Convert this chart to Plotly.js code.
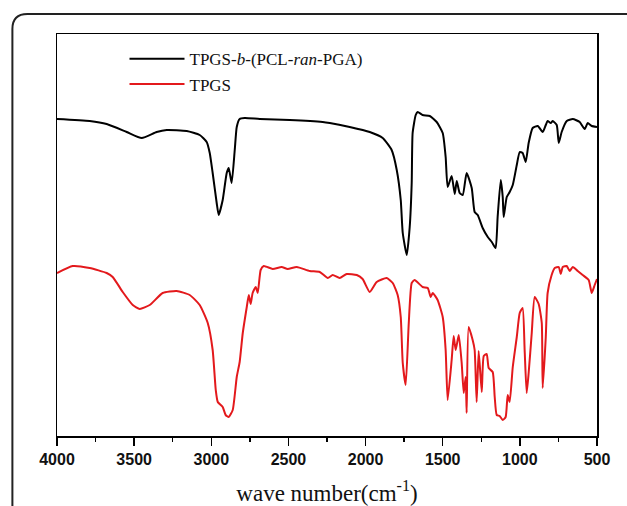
<!DOCTYPE html>
<html>
<head>
<meta charset="utf-8">
<script src="https://cdn.plot.ly/plotly-3.0.1.min.js"></script>
<style>
html,body{margin:0;padding:0;background:#fff;}
#chart{width:627px;height:506px;}
</style>
</head>
<body>
<div id="chart"></div>
<script>
// Wavenumber (cm-1) and relative transmittance (a.u.)
const copolymerWavenumber = [4000,3788,3678,3548,3451,3354,3289,3159,3075,3030,3010,2991,2965,2952,2926,2900,2887,2868,2848,2835,2816,2783,2686,2492,2278,2232,2103,1973,1889,1831,1798,1772,1759,1733,1714,1701,1695,1675,1662,1630,1584,1539,1500,1481,1468,1442,1422,1409,1390,1370,1345,1312,1293,1273,1241,1208,1182,1157,1144,1124,1111,1105,1085,1066,1046,1020,1001,982,962,943,917,884,852,832,820,800,787,761,748,729,696,657,612,580,560,534,500];
const copolymerTransmittance = [317,315,312,304,298,304,306,305,301,294,283,263,233,221,236,263,268,253,286,309,317,318,317,316,314,313,309,304,298,286,266,236,203,181,209,253,303,321,324,321,320,314,303,279,249,260,242,255,243,241,263,248,224,221,208,199,194,188,219,256,239,219,239,244,251,271,284,283,274,293,308,310,304,311,315,313,315,311,293,304,315,317,314,307,313,310,309];

const tpgsWavenumber = [4000,3898,3788,3678,3639,3574,3509,3464,3399,3315,3224,3140,3075,3023,2991,2971,2958,2926,2907,2887,2861,2835,2816,2796,2770,2757,2745,2732,2712,2699,2680,2660,2602,2544,2505,2446,2362,2297,2245,2213,2168,2122,2057,2019,1973,1928,1863,1824,1792,1772,1759,1740,1720,1701,1682,1630,1597,1578,1565,1533,1500,1481,1468,1442,1429,1416,1396,1377,1364,1351,1345,1332,1306,1293,1280,1267,1247,1234,1215,1202,1176,1163,1150,1131,1111,1092,1079,1066,1046,1020,1001,982,969,956,943,923,904,878,858,852,832,820,794,774,748,735,722,696,677,657,625,593,554,534,515,500];
const tpgsTransmittance = [163,170,168,163,159,144,131,127,131,143,145,141,131,113,86,46,34,29,21,19,26,59,74,103,129,141,132,143,149,143,166,170,167,169,167,169,165,164,158,161,158,162,161,157,144,154,158,153,141,119,73,51,113,153,156,149,148,139,143,136,119,86,36,76,100,86,101,73,43,59,23,109,96,86,34,85,44,80,82,68,64,39,21,20,16,19,41,34,69,99,123,128,86,43,63,103,139,132,113,48,99,143,161,168,169,162,169,170,165,169,165,161,156,143,151,157];

const seriesNames = ["TPGS-<i>b</i>-(PCL-<i>ran</i>-PGA)", "TPGS"];
const seriesColors = ["#000000", "#e3191c"];
const xTickValues = [4000,3500,3000,2500,2000,1500,1000,500];
const xTickLabels = ["4000","3500","3000","2500","2000","1500","1000","500"];

const traces = [
  {x: copolymerWavenumber, y: copolymerTransmittance, name: seriesNames[0], type: 'scatter', mode: 'lines',
   line: {color: seriesColors[0], width: 2, shape: 'spline', smoothing: 0.5}},
  {x: tpgsWavenumber, y: tpgsTransmittance, name: seriesNames[1], type: 'scatter', mode: 'lines',
   line: {color: seriesColors[1], width: 2, shape: 'spline', smoothing: 0.5}}
];

const layout = {
  width: 627, height: 506,
  margin: {l: 57, r: 30, t: 34, b: 70},
  paper_bgcolor: '#ffffff', plot_bgcolor: '#ffffff',
  showlegend: true,
  legend: {x: 0.125, y: 0.982, xanchor: 'left', yanchor: 'top', bgcolor: 'rgba(0,0,0,0)',
           itemwidth: 55, font: {family: 'Liberation Serif, Times New Roman, serif', size: 17, color: '#111'}},
  xaxis: {
    range: [4000, 500], tickmode: 'array', tickvals: xTickValues, ticktext: xTickLabels,
    ticks: 'outside', ticklen: 8, tickwidth: 1.5, tickcolor: '#000',
    minor: {dtick: 250, ticks: 'outside', ticklen: 4, tickwidth: 1.5, tickcolor: '#000', showgrid: false},
    showline: true, linecolor: '#000', linewidth: 1.5, mirror: true, showgrid: false, zeroline: false,
    tickfont: {family: 'Liberation Sans, Arial, sans-serif', size: 16, weight: 'bold', color: '#111'},
    title: {text: 'wave number(cm<sup>-1</sup>)', standoff: 18,
            font: {family: 'Liberation Serif, Times New Roman, serif', size: 23, color: '#111'}}
  },
  yaxis: {
    range: [0, 402], showticklabels: false, ticks: '', showgrid: false, zeroline: false,
    showline: true, linecolor: '#000', linewidth: 1.5, mirror: true
  },
  shapes: [{
    type: 'path', xref: 'paper', yref: 'paper',
    path: 'M -0.0826,-0.25 L -0.0826,1.0125 Q -0.0826,1.0498 -0.0548,1.0498 L 1.1,1.0498',
    line: {color: '#222', width: 2}
  }]
};

Plotly.newPlot('chart', traces, layout, {displayModeBar: false, staticPlot: true});
</script>
</body>
</html>
